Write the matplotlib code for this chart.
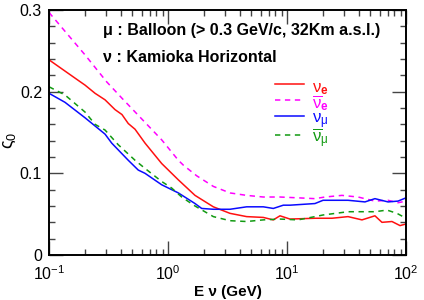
import matplotlib
matplotlib.use("Agg")
import matplotlib.pyplot as plt
import matplotlib.ticker as mticker
import numpy as np

plt.rcParams["font.family"] = ["Liberation Sans", "DejaVu Sans"]
plt.rcParams["mathtext.fontset"] = "custom"
plt.rcParams["mathtext.rm"] = "Liberation Sans"
plt.rcParams["mathtext.bf"] = "Liberation Sans:bold"
plt.rcParams["mathtext.it"] = "Liberation Sans:italic"

# log10(E / GeV) and zeta_0 values
nue_logE = [-1.0, -0.756, -0.697, -0.613, -0.529, -0.445, -0.387, -0.334, -0.277,
            -0.193, -0.053, 0.087, 0.227, 0.381, 0.521, 0.661, 0.801, 0.885,
            0.941, 1.025, 1.235, 1.378, 1.513, 1.630, 1.739, 1.798, 1.882,
            1.950, 2.0]
nue_val = [0.239, 0.214, 0.208, 0.198, 0.190, 0.178, 0.172, 0.161, 0.154,
           0.137, 0.112, 0.092, 0.073, 0.059, 0.051, 0.047, 0.046, 0.043,
           0.048, 0.044, 0.045, 0.045, 0.047, 0.043, 0.048, 0.040, 0.041,
           0.036, 0.038]

nuebar_logE = [-1.0, -0.697, -0.515, -0.387, -0.053, 0.087, 0.129, 0.241,
               0.381, 0.521, 0.661, 0.801, 0.941, 1.092, 1.235, 1.319,
               1.462, 1.597, 1.739, 1.849, 1.933, 2.0]
nuebar_val = [0.297, 0.245, 0.212, 0.192, 0.141, 0.116, 0.110, 0.097,
              0.084, 0.076, 0.073, 0.071, 0.071, 0.070, 0.069, 0.071,
              0.073, 0.071, 0.066, 0.067, 0.064, 0.066]

numu_logE = [-1.0, -0.866, -0.697, -0.613, -0.529, -0.473, -0.334, -0.250,
             -0.193, -0.053, 0.087, 0.227, 0.283, 0.381, 0.521, 0.661,
             0.801, 0.885, 0.969, 1.025, 1.235, 1.303, 1.513, 1.655,
             1.739, 1.849, 1.933, 2.0]
numu_val = [0.198, 0.187, 0.168, 0.158, 0.148, 0.137, 0.116, 0.104,
            0.100, 0.086, 0.076, 0.063, 0.057, 0.056, 0.056, 0.059,
            0.059, 0.057, 0.061, 0.061, 0.063, 0.067, 0.067, 0.065,
            0.069, 0.065, 0.066, 0.070]

numubar_logE = [-1.0, -0.866, -0.697, -0.613, -0.529, -0.418, -0.277, -0.193,
                -0.053, 0.031, 0.115, 0.227, 0.381, 0.521, 0.661, 0.801,
                0.941, 1.092, 1.235, 1.303, 1.513, 1.739, 1.840, 1.924, 2.0]
numubar_val = [0.206, 0.196, 0.175, 0.160, 0.153, 0.135, 0.116, 0.106,
               0.090, 0.082, 0.071, 0.060, 0.047, 0.042, 0.041, 0.043,
               0.044, 0.043, 0.047, 0.049, 0.053, 0.053, 0.055, 0.051, 0.045]

fig = plt.figure(figsize=(4.24, 3.0), dpi=100)
ax = fig.add_axes([49 / 424, 45 / 300, 357 / 424, 245 / 300])

ax.plot(10 ** np.array(nue_logE), nue_val, color="#ff1010", lw=1.1,
        label=r"$\mathrm{\nu}_\mathbf{e}$")
ax.plot(10 ** np.array(nuebar_logE), nuebar_val, color="#ff00ff", lw=1.1,
        dashes=(3.5, 3), label=r"$\overline{\mathrm{\nu}}_\mathbf{e}$")
ax.plot(10 ** np.array(numu_logE), numu_val, color="#0a0aff", lw=1.1,
        label=r"$\mathrm{\nu}_\mathrm{\mu}$")
ax.plot(10 ** np.array(numubar_logE), numubar_val, color="#119a11", lw=1.1,
        dashes=(3.5, 3), label=r"$\overline{\mathrm{\nu}}_\mathrm{\mu}$")

ax.set_xscale("log")
ax.set_xlim(0.1, 100)
ax.set_ylim(0, 0.3)
ax.set_yticks([0, 0.1, 0.2, 0.3])
ax.set_yticklabels(["0", "0.1", "0.2", "0.3"])
ax.yaxis.set_minor_locator(mticker.MultipleLocator(0.02))
ax.xaxis.set_major_formatter(mticker.FuncFormatter(
    lambda x, _: r"$\mathregular{10^{%d}}$" % round(np.log10(x))))
ax.xaxis.set_minor_formatter(mticker.NullFormatter())
ax.tick_params(which="both", direction="in", top=True, right=True, labelsize=11.5,
               width=1.0, color="#444444")
ax.tick_params(which="major", length=10, pad=5)
ax.tick_params(axis="x", which="major", pad=7)
ax.tick_params(which="minor", length=4)
for s in ax.spines.values():
    s.set_linewidth(1.4)

ax.set_xlabel("E ν (GeV)", fontsize=11, fontweight="bold", labelpad=1)
ax.set_ylabel("ς$_0$", fontsize=13)
ax.yaxis.set_label_coords(-0.088, 0.47)

ax.text(0.15, 0.915, "μ : Balloon (> 0.3 GeV/c, 32Km a.s.l.)", transform=ax.transAxes,
        fontsize=11.5, fontweight="bold", va="center")
ax.text(0.15, 0.805, "ν : Kamioka Horizontal", transform=ax.transAxes,
        fontsize=11.5, fontweight="bold", va="center")

# tall handles give every legend row the same height
leg = ax.legend(loc="upper left", bbox_to_anchor=(0.6, 0.775), frameon=False,
                handlelength=1.75, handleheight=1.45, handletextpad=0.5,
                labelspacing=-0.27, borderpad=0.2, fontsize=12)
for txt, line in zip(leg.get_texts(), leg.get_lines()):
    txt.set_color(line.get_color())

fig.savefig("out.png", dpi=100)
